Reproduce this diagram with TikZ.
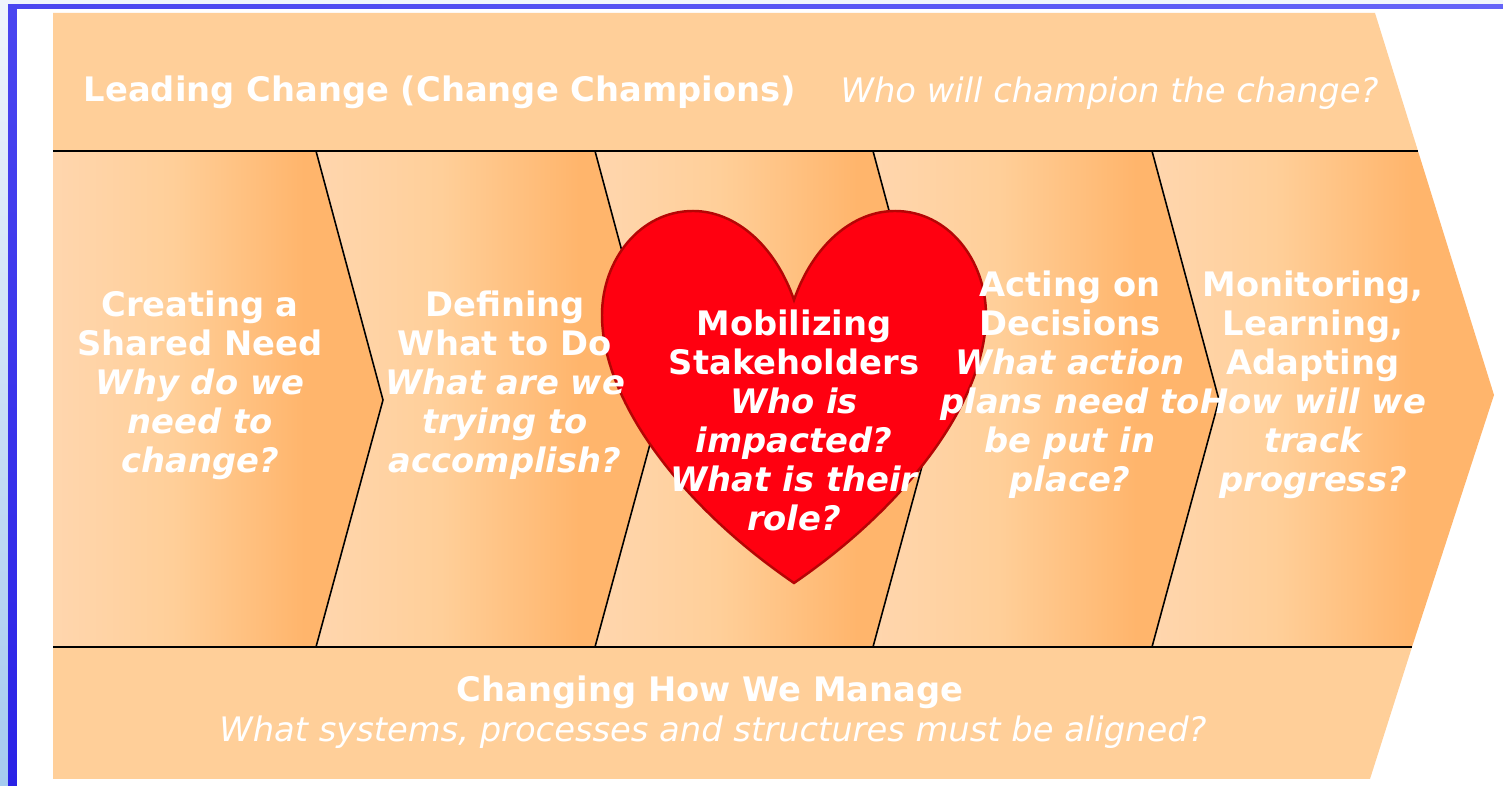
\documentclass[tikz,border=0pt]{standalone}
\usepackage{fontspec}
\setmainfont{DejaVu Sans}
\definecolor{bandfill}{HTML}{FFCF99}
\definecolor{chevlight}{HTML}{FFD6AE}
\definecolor{chevdark}{HTML}{FFB56C}
\definecolor{heartfill}{HTML}{FF0010}
\definecolor{heartline}{HTML}{B50505}
\definecolor{framepale}{HTML}{F0F5FC}
\definecolor{framesky}{HTML}{A5CBEF}
\definecolor{frameblue}{HTML}{4A46F0}
\definecolor{framedeep}{HTML}{2A22E6}
\definecolor{frametop}{HTML}{6464F8}
\pgfdeclarehorizontalshading{chevshade}{100bp}{color(0bp)=(chevlight); color(25bp)=(chevlight); color(43bp)=(bandfill); color(63bp)=(chevdark); color(100bp)=(chevdark)}
\tikzset{
label/.style={text=white, font=\fontsize{9.6}{11.1}\selectfont\bfseries, align=center, inner sep=0pt},
question/.style={text=white, font=\fontsize{9.6}{11.1}\selectfont\itshape, align=center, inner sep=0pt},
heart/.pic={
  \draw[fill=heartfill, draw=heartline, line width=0.7pt] (0,0)
    .. controls (-0.19,0.55) and (-0.59,0.89) .. (-1.01,0.89)
    .. controls (-1.54,0.89) and (-1.92,0.40) .. (-1.92,-0.15)
    .. controls (-1.92,-1.00) and (-1.14,-2.05) .. (0,-2.83)
    .. controls (1.14,-2.05) and (1.92,-1.00) .. (1.92,-0.15)
    .. controls (1.92,0.40) and (1.54,0.89) .. (1.01,0.89)
    .. controls (0.59,0.89) and (0.19,0.55) .. (0,0) -- cycle;
  }
}
\newcommand{\qline}[1]{{\bfseries\itshape #1}}
\begin{document}
\begin{tikzpicture}
\useasboundingbox (0,0) rectangle (15.03,7.86);

% window frame
\fill[white] (0,0) rectangle (15.03,7.86);
\shade[top color=framepale, bottom color=framesky] (0,0) rectangle (0.08,7.86);
\fill[framepale] (0,7.81) rectangle (15.03,7.86);
\shade[left color=frameblue, right color=frametop] (0.08,7.77) rectangle (15.03,7.81);
\shade[top color=frameblue, bottom color=framedeep] (0.08,0) rectangle (0.17,7.81);

\fill[bandfill] (0.53,7.73) -- (13.75,7.73) -- (14.18,6.35) -- (0.53,6.35) -- cycle;
\fill[bandfill] (0.53,1.39) -- (14.12,1.39) -- (13.70,0.07) -- (0.53,0.07) -- cycle;

% chevrons
\shade[shading=chevshade] (0.53,6.35) -- (3.16,6.35) -- (3.83,3.86) -- (3.16,1.39) -- (0.53,1.39) -- cycle;
\foreach \a/\b in {3.16/5.95, 5.95/8.73, 8.73/11.52} {
  \shade[shading=chevshade] (\a,6.35) -- (\b,6.35) -- (\b+0.67,3.86) -- (\b,1.39) -- (\a,1.39) -- (\a+0.67,3.86) -- cycle;
}
\shade[shading=chevshade] (11.52,6.35) -- (14.18,6.35) -- (14.94,3.91) -- (14.12,1.39) -- (11.52,1.39) -- (12.19,3.86) -- cycle;

\draw[line width=0.6pt] (0.53,6.35) -- (14.18,6.35);
\draw[line width=0.6pt] (0.53,1.39) -- (14.12,1.39);
\foreach \b in {3.16, 5.95, 8.73, 11.52} {
  \draw[line width=0.45pt] (\b,6.35) -- (\b+0.67,3.86) -- (\b,1.39);
}

\pic at (7.94,4.86) {heart};

\node[label, anchor=west] (leading) at (0.83,6.94) {Leading Change (Change Champions)};
\node[question, anchor=west] (leadingq) at (8.40,6.93) {Who will champion the change?};

\node[label] (need) at (2.00,4.01) {Creating a\\Shared Need\\\qline{Why do we}\\\qline{need to}\\\qline{change?}};
\node[label] (define) at (5.05,4.01) {Defining\\What to Do\\\qline{What are we}\\\qline{trying to}\\\qline{accomplish?}};
\node[label] (mobilize) at (7.94,3.66) {Mobilizing\\Stakeholders\\\qline{Who is}\\\qline{impacted?}\\\qline{What is their}\\\qline{role?}};
\node[label] (act) at (10.70,4.01) {Acting on\\Decisions\\\qline{What action}\\\qline{plans need to}\\\qline{be put in}\\\qline{place?}};
\node[label] (monitor) at (13.13,4.01) {Monitoring,\\Learning,\\Adapting\\\qline{How will we}\\\qline{track}\\\qline{progress?}};

\node[label] (manage) at (7.10,0.94) {Changing How We Manage};
\node[question] (manageq) at (7.13,0.54) {What systems, processes and structures must be aligned?};
\end{tikzpicture}
\end{document}
